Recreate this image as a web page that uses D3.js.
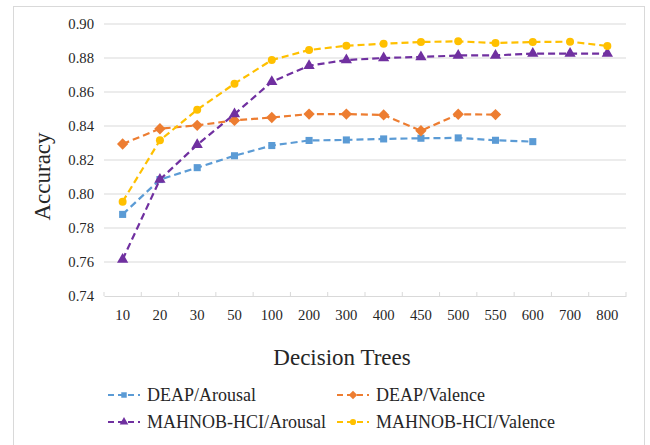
<!DOCTYPE html>
<html><head><meta charset="utf-8">
<script src="https://cdn.jsdelivr.net/npm/d3@7/dist/d3.min.js"></script>
<style>body{margin:0;background:#fff}svg{display:block}svg text{font-family:"Times New Roman","Liberation Serif",Tinos,"DejaVu Serif",serif !important;fill:#262626}</style>
</head><body><svg id="c" width="650" height="445"></svg>
<script>
const categories = ["10","20","30","50","100","200","300","400","450","500","550","600","700","800"];
const yTicks = [0.74,0.76,0.78,0.80,0.82,0.84,0.86,0.88,0.90];
const deapArousal = [0.788,0.8085,0.8155,0.8225,0.8285,0.8315,0.8318,0.8324,0.8328,0.833,0.8316,0.8308,null,null];
const deapValence = [0.8294,0.8384,0.8404,0.8433,0.845,0.847,0.847,0.8465,0.8372,0.8469,0.8467,null,null,null];
const mahnobArousal = [0.7615,0.8085,0.829,0.847,0.866,0.8755,0.8788,0.8800,0.8806,0.8815,0.8815,0.8826,0.8826,0.8826];
const mahnobValence = [0.7955,0.8316,0.8496,0.8649,0.8788,0.8847,0.8872,0.8884,0.8894,0.8898,0.8888,0.8894,0.8896,0.8871];
const seriesNames = ["DEAP/Arousal","DEAP/Valence","MAHNOB-HCI/Arousal","MAHNOB-HCI/Valence"];

const diamond = {draw(ctx,size){const r=Math.sqrt(size/2);ctx.moveTo(0,-r);ctx.lineTo(r,0);ctx.lineTo(0,r);ctx.lineTo(-r,0);ctx.closePath();}};
const series = [
  {name:seriesNames[0], values:deapArousal, color:"#5B9BD5", sym:d3.symbolSquare, size:50, ls:30},
  {name:seriesNames[1], values:deapValence, color:"#ED7D31", sym:diamond, size:64, ls:36},
  {name:seriesNames[2], values:mahnobArousal, color:"#7030A0", sym:d3.symbolTriangle, size:55, ls:32},
  {name:seriesNames[3], values:mahnobValence, color:"#FFC000", sym:d3.symbolCircle, size:50, ls:30}
];

const svg = d3.select("#c");
svg.append("rect").attr("x",13.5).attr("y",6.5).attr("width",631).attr("height",445).attr("fill","#fff").attr("stroke","#D9D9D9");

const L=104, R=626, T=24, B=296;
const x = d3.scaleBand().domain(categories).range([L,R]);
const y = d3.scaleLinear().domain([0.74,0.90]).range([B,T]);

svg.append("g").selectAll("line").data(yTicks.slice(1)).join("line")
  .attr("x1",L).attr("x2",R).attr("y1",d=>y(d)).attr("y2",d=>y(d))
  .attr("stroke","#D9D9D9").attr("stroke-width",1);

const ya = svg.append("g").attr("transform",`translate(${L},0)`)
  .call(d3.axisLeft(y).tickValues(yTicks).tickFormat(d3.format(".2f")).tickSize(0).tickPadding(10));
ya.attr("font-family",null);
ya.select(".domain").remove();
ya.selectAll("text").style("font-size","14.7px").attr("fill","#262626");

const xa = svg.append("g").attr("transform",`translate(0,${B})`)
  .call(d3.axisBottom(x).tickSize(0).tickPadding(14));
xa.attr("font-family",null);
xa.select(".domain").attr("stroke","#D9D9D9");
xa.selectAll("text").style("font-size","14.7px").attr("fill","#262626");
const edges = categories.map(c=>x(c)).concat([R]);
svg.append("g").selectAll("line").data(edges).join("line")
  .attr("x1",d=>d).attr("x2",d=>d).attr("y1",B-4).attr("y2",B)
  .attr("stroke","#D9D9D9");

const line = d3.line().defined(d=>d.v!=null).x(d=>x(d.c)+x.bandwidth()/2).y(d=>y(d.v));
series.forEach(s=>{
  const pts = categories.map((c,i)=>({c, v:s.values[i]}));
  svg.append("path").datum(pts).attr("d",line).attr("fill","none")
    .attr("stroke",s.color).attr("stroke-width",2.2).attr("stroke-dasharray","7,4");
  svg.append("g").selectAll("path").data(pts.filter(d=>d.v!=null)).join("path")
    .attr("d",d3.symbol().type(s.sym).size(s.size))
    .attr("transform",d=>`translate(${x(d.c)+x.bandwidth()/2},${y(d.v)})`)
    .attr("fill",s.color);
});

svg.append("text").attr("transform","translate(50,176.5) rotate(-90)")
  .attr("text-anchor","middle").style("font-size","23px").text("Accuracy");
svg.append("text").attr("x",342).attr("y",365).attr("text-anchor","middle")
  .style("font-size","23px").text("Decision Trees");

const legPos = [[108,395],[337,395],[108,422],[337,422]];
series.forEach((s,i)=>{
  const [lx,ly] = legPos[i];
  const g = svg.append("g").attr("transform",`translate(${lx},${ly})`);
  g.append("line").attr("x1",0).attr("x2",32).attr("y1",0).attr("y2",0)
    .attr("stroke",s.color).attr("stroke-width",2.2).attr("stroke-dasharray","6,4");
  g.append("path").attr("d",d3.symbol().type(s.sym).size(s.ls)).attr("transform","translate(16,0)").attr("fill",s.color);
  g.append("text").attr("x",39).attr("y",0).attr("dy","0.35em").style("font-size","18px").text(s.name);
});
</script></body></html>
